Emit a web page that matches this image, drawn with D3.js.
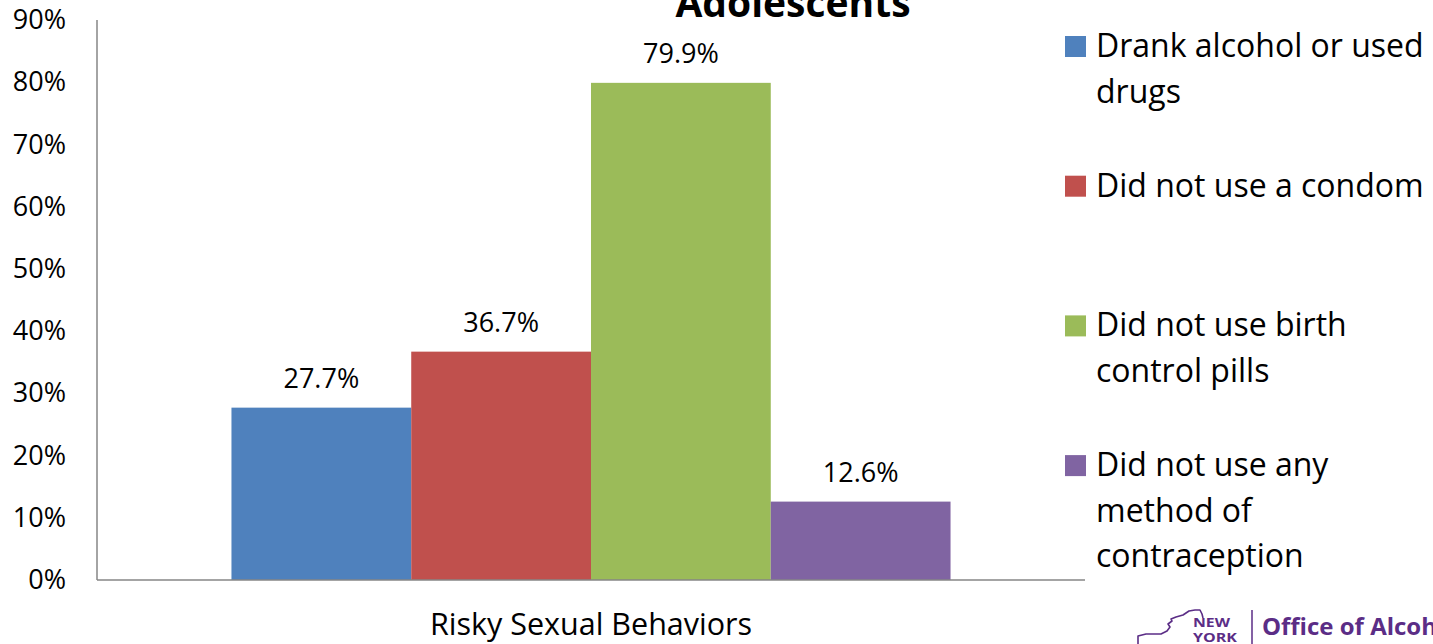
<!DOCTYPE html>
<html>
<head>
<meta charset="utf-8">
<script src="https://cdn.jsdelivr.net/npm/d3@7"></script>
<style>
  html, body { margin: 0; padding: 0; background: #fff; }
  svg { display: block; font-family: "Open Sans", "Noto Sans", sans-serif; }
</style>
</head>
<body>
<svg id="chart" width="1433" height="644"></svg>
<script>
// Chart data
const categories = ["Risky Sexual Behaviors"];
const seriesNames = [
  "Drank alcohol or used drugs",
  "Did not use a condom",
  "Did not use birth control pills",
  "Did not use any method of contraception"
];
const seriesValues = [27.7, 36.7, 79.9, 12.6];
const seriesColors = ["#4f81bd", "#c0504d", "#9bbb59", "#8064a2"];
const legendLines = [
  ["Drank alcohol or used", "drugs"],
  ["Did not use a condom"],
  ["Did not use birth", "control pills"],
  ["Did not use any", "method of", "contraception"]
];
const yTicks = [0, 10, 20, 30, 40, 50, 60, 70, 80, 90];
const titleText = "Adolescents";

const svg = d3.select("#chart");

const plot = { left: 97, right: 1085, top: 20, bottom: 580 };

const y = d3.scaleLinear().domain([0, 90]).range([plot.bottom, plot.top]);

const x0 = d3.scaleBand()
  .domain(categories)
  .range([plot.left, plot.right])
  .paddingInner(0)
  .paddingOuter(0.187);

const x1 = d3.scaleBand()
  .domain(d3.range(seriesNames.length))
  .range([0, x0.bandwidth()])
  .padding(0);

// Title (only its last line falls inside the view)
svg.append("text")
  .attr("x", 793)
  .attr("y", 17)
  .attr("text-anchor", "middle")
  .attr("font-weight", "bold")
  .attr("font-size", 39)
  .attr("fill", "#000")
  .text(titleText);

// Y axis labels
const yAxis = d3.axisLeft(y)
  .tickValues(yTicks)
  .tickSize(0)
  .tickPadding(31)
  .tickFormat(d => d + "%");

const yg = svg.append("g")
  .attr("transform", `translate(${plot.left},0)`)
  .call(yAxis);
yg.select(".domain").remove();
yg.selectAll("text")
  .attr("font-size", 27)
  .attr("font-family", "\"Open Sans\", sans-serif")
  .attr("fill", "#000");

// Bars
const group = svg.append("g")
  .selectAll("g")
  .data(categories)
  .join("g")
  .attr("transform", d => `translate(${x0(d)},0)`);

group.selectAll("rect")
  .data(seriesValues.map((v, i) => ({ v, i })))
  .join("rect")
  .attr("x", d => x1(d.i))
  .attr("width", x1.bandwidth())
  .attr("y", d => y(d.v))
  .attr("height", d => y(0) - y(d.v))
  .attr("fill", d => seriesColors[d.i]);

// Value labels
group.selectAll("text.value")
  .data(seriesValues.map((v, i) => ({ v, i })))
  .join("text")
  .attr("class", "value")
  .attr("x", d => x1(d.i) + x1.bandwidth() / 2)
  .attr("y", d => y(d.v) - 20)
  .attr("text-anchor", "middle")
  .attr("font-size", 27)
  .attr("fill", "#000")
  .text(d => d.v.toFixed(1) + "%");

// Axis lines
svg.append("line")
  .attr("x1", plot.left).attr("x2", plot.left)
  .attr("y1", y(90)).attr("y2", y(0))
  .attr("stroke", "#868686").attr("stroke-width", 1.5);
svg.append("line")
  .attr("x1", plot.left).attr("x2", plot.right)
  .attr("y1", y(0)).attr("y2", y(0))
  .attr("stroke", "#868686").attr("stroke-width", 1.5);

// Category label
svg.append("g")
  .selectAll("text")
  .data(categories)
  .join("text")
  .attr("x", d => x0(d) + x0.bandwidth() / 2)
  .attr("y", 635)
  .attr("text-anchor", "middle")
  .attr("font-size", 30.5)
  .attr("fill", "#000")
  .text(d => d);

// Legend
const legend = svg.append("g").attr("transform", "translate(1065,57)");
const item = legend.selectAll("g")
  .data(legendLines)
  .join("g")
  .attr("transform", (d, i) => `translate(0,${i * 139.7})`);
item.append("rect")
  .attr("x", 0).attr("y", -21)
  .attr("width", 21).attr("height", 21)
  .attr("fill", (d, i) => seriesColors[i]);
item.append("text")
  .attr("x", 31)
  .attr("font-size", 32)
  .attr("fill", "#000")
  .selectAll("tspan")
  .data(d => d)
  .join("tspan")
  .attr("x", 31)
  .attr("y", (d, j) => j * 45.5)
  .text(d => d);

// Footer logo
const logoColor = "#5b2d86";
const logo = svg.append("g");
logo.append("path")
  .attr("d", "M1138,644 L1138,636 L1146,634 L1161,634 L1167,631 L1170,627 L1168,624 L1172,621 L1171,619 L1176,617 L1183,615 L1189,611 L1195,610 L1200,610 L1202,614 L1203,618")
  .attr("fill", "none")
  .attr("stroke", logoColor)
  .attr("stroke-width", 1.6)
  .attr("stroke-linejoin", "round");
logo.append("text")
  .attr("x", 1193).attr("y", 627)
  .attr("font-weight", "bold")
  .attr("font-size", 12.5)
  .attr("textLength", 37)
  .attr("lengthAdjust", "spacingAndGlyphs")
  .attr("fill", logoColor)
  .text("NEW");
logo.append("text")
  .attr("x", 1193).attr("y", 642)
  .attr("font-weight", "bold")
  .attr("font-size", 12.5)
  .attr("textLength", 44)
  .attr("lengthAdjust", "spacingAndGlyphs")
  .attr("fill", logoColor)
  .text("YORK");
logo.append("line")
  .attr("x1", 1252).attr("x2", 1252)
  .attr("y1", 610).attr("y2", 644)
  .attr("stroke", logoColor).attr("stroke-width", 1.5);
logo.append("text")
  .attr("x", 1262).attr("y", 635)
  .attr("font-weight", "bold")
  .attr("font-size", 24)
  .attr("fill", logoColor)
  .text("Office of Alcoholism");
</script>
</body>
</html>
